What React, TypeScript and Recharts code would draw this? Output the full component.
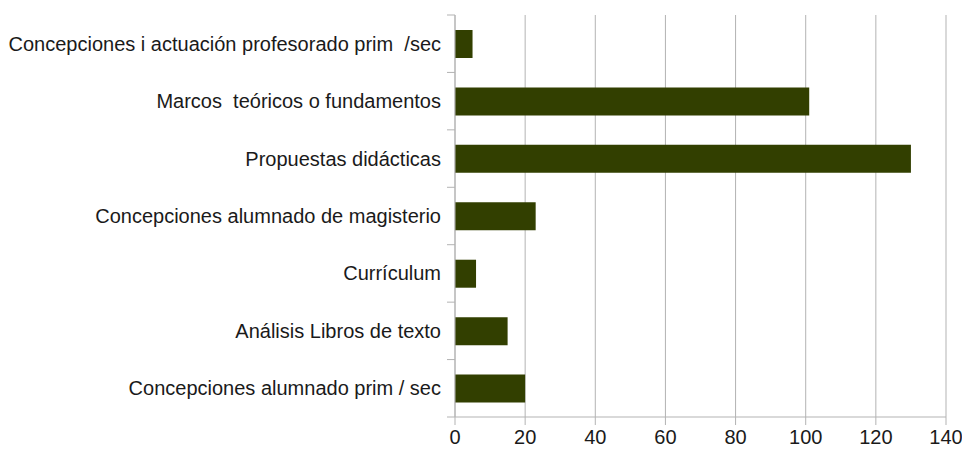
import { Bar, BarChart, CartesianGrid, XAxis, YAxis } from "recharts";

const categories = [
    "Concepciones i actuación profesorado prim  /sec",
    "Marcos  teóricos o fundamentos",
    "Propuestas didácticas",
    "Concepciones alumnado de magisterio",
    "Currículum",
    "Análisis Libros de texto",
    "Concepciones alumnado prim / sec",
];
const counts = [5, 101, 130, 23, 6, 15, 20];
const xTicks = [0, 20, 40, 60, 80, 100, 120, 140];

const data = categories.map((name, i) => ({ name, value: counts[i] }));

const GRID = "#b3b3b3";
const TEXT = "#1a1a1a";
const FONT = "'Liberation Sans', Arial, sans-serif";
const BAND = 402 / categories.length;

function CategoryTick(props: any) {
    const { x, y, payload, index } = props;
    return (
        <g>
            <line x1={x} x2={x + 8} y1={y - BAND / 2} y2={y - BAND / 2} stroke={GRID} />
            {index === categories.length - 1 && (
                <line x1={x} x2={x + 8} y1={y + BAND / 2} y2={y + BAND / 2} stroke={GRID} />
            )}
            <text x={x - 6} y={y} dy={7} textAnchor="end" fill={TEXT} fontSize={20} fontFamily={FONT} style={{ whiteSpace: "pre" }}>
                {payload.value}
            </text>
        </g>
    );
}

export default function App() {
    return (
        <div style={{ position: "absolute", left: 0, top: 0, background: "#fff" }}>
            <BarChart width={962} height={450} data={data} layout="vertical" margin={{ top: 15, right: 16, left: 0, bottom: 0 }}>
                <CartesianGrid horizontal={false} stroke={GRID} />
                <XAxis
                    type="number"
                    domain={[0, 140]}
                    ticks={xTicks}
                    height={33}
                    stroke={GRID}
                    tickSize={8}
                    tickMargin={5}
                    tick={{ fill: TEXT, fontSize: 20, fontFamily: FONT }}
                    interval={0}
                />
                <XAxis xAxisId="top" orientation="top" type="number" domain={[0, 140]} height={0} tick={false} tickLine={false} stroke={GRID} />
                <YAxis
                    type="category"
                    dataKey="name"
                    width={455}
                    stroke={GRID}
                    tickLine={false}
                    tick={<CategoryTick />}
                    interval={0}
                />
                <Bar dataKey="value" fill="#323f00" barSize={28} isAnimationActive={false} />
            </BarChart>
        </div>
    );
}
